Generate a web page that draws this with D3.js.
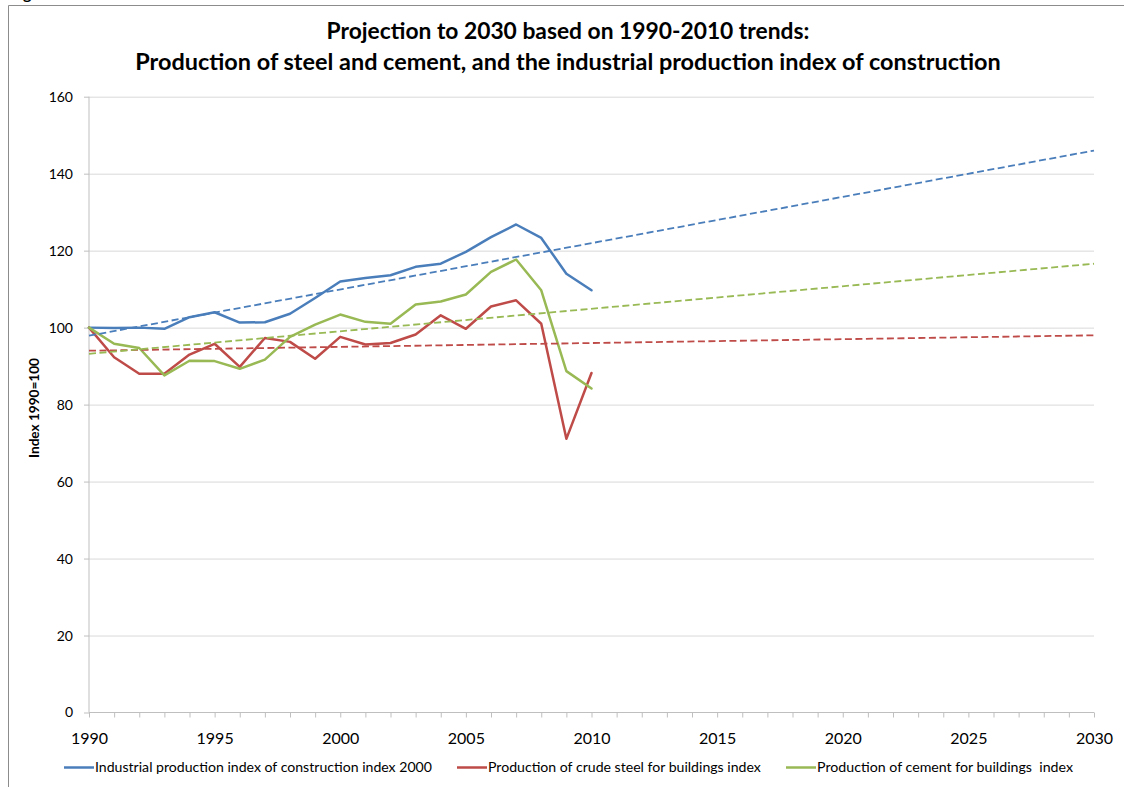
<!DOCTYPE html>
<html>
<head>
<meta charset="utf-8">
<script src="https://cdn.jsdelivr.net/npm/d3@7"></script>
<style>
  html, body { margin: 0; padding: 0; background: #ffffff; }
  svg { display: block; }
  text { font-family: Lato, "Open Sans", "Liberation Sans", sans-serif; fill: #000; }
</style>
</head>
<body>
<svg id="chart" width="1124" height="787"></svg>
<script>
// ---------- DATA ----------
const years = [1990,1991,1992,1993,1994,1995,1996,1997,1998,1999,2000,2001,2002,2003,2004,2005,2006,2007,2008,2009,2010];
const constructionIndex = [100, 99.9, 100, 99.7, 102.7, 104.0, 101.3, 101.4, 103.6, 107.7, 112.0, 112.9, 113.6, 115.8, 116.6, 119.7, 123.5, 126.8, 123.3, 114.0, 109.7];
const steelIndex        = [100, 92.3, 88.0, 88.0, 93.0, 95.8, 89.8, 97.3, 96.3, 91.9, 97.6, 95.6, 96.0, 98.2, 103.2, 99.7, 105.5, 107.1, 101.0, 71.1, 88.2];
const cementIndex       = [100, 95.8, 94.7, 87.6, 91.4, 91.3, 89.3, 91.7, 97.6, 100.8, 103.4, 101.5, 101.0, 106.0, 106.8, 108.6, 114.5, 117.7, 109.7, 88.7, 84.2];
// linear trend lines (end points)
const trendYears = [1990, 2030];
const constructionTrend = [97.9, 146.0];
const steelTrend        = [94.0, 98.0];
const cementTrend       = [93.2, 116.6];

const seriesNames = [
  "Industrial production index of construction index 2000",
  "Production of crude steel for buildings index",
  "Production of cement for buildings  index"
];
const seriesColors = ["#4a7ebb", "#be4b48", "#98b954"];
const yTickValues = [0, 20, 40, 60, 80, 100, 120, 140, 160];
const xLabelYears = [1990, 1995, 2000, 2005, 2010, 2015, 2020, 2025, 2030];
const titleLines = [
  "Projection to 2030 based on 1990-2010 trends:",
  "Production of steel and cement, and the industrial production index of construction"
];
const yAxisTitle = "Index 1990=100";

// ---------- LAYOUT ----------
const svg = d3.select("#chart");
const plotL = 89, plotR = 1094, plotT = 96.7, plotB = 712.5;
const x = d3.scaleLinear().domain([1990, 2030]).range([plotL, plotR]);
const y = d3.scaleLinear().domain([0, 160]).range([plotB, plotT]);

svg.append("rect").attr("width", 1124).attr("height", 787).attr("fill", "#fff");

// fit text to width helper
function fitWidth(sel, target) {
  const node = sel.node();
  const fs = parseFloat(sel.attr("font-size"));
  const w = node.getComputedTextLength();
  if (w > 0) sel.attr("font-size", (fs * target / w).toFixed(2));
  return sel;
}

// partially visible caption above the frame
svg.append("text").attr("x", 10).attr("y", -1.5)
  .attr("font-size", 16).attr("font-weight", "bold").text("Figure");

// outer frame (left + top visible)
svg.append("path").attr("d", "M8.5,787 V5.5 H1124")
  .attr("fill", "none").attr("stroke", "#8c8c8c").attr("stroke-width", 1);

// title
const titleTargets = [483, 866];
const titleBaselines = [39, 70];
titleLines.forEach((t, i) => {
  const tt = svg.append("text").attr("x", 568).attr("y", titleBaselines[i])
    .attr("text-anchor", "middle").attr("font-weight", "bold")
    .attr("font-size", 20).text(t);
  fitWidth(tt, titleTargets[i]);
});

// gridlines
const grid = svg.append("g").attr("transform", `translate(${plotL},0)`)
  .call(d3.axisLeft(y).tickValues(yTickValues.filter(v => v > 0)).tickSize(-(plotR - plotL)).tickFormat(""));
grid.select(".domain").remove();
grid.selectAll("line").attr("stroke", "#d9d9d9").attr("stroke-width", 1);

// y axis
const yAxis = svg.append("g").attr("transform", `translate(${plotL},0)`)
  .call(d3.axisLeft(y).tickValues(yTickValues).tickSize(5).tickPadding(11));
yAxis.select(".domain").attr("stroke", "#bfbfbf").attr("d", `M-0,${plotT}V${plotB}`);
yAxis.selectAll("line").attr("stroke", "#bfbfbf");
yAxis.selectAll("text").attr("font-size", 14).attr("font-family", "Lato, sans-serif").attr("fill", "#000");

// x axis
const allYears = d3.range(1990, 2031);
const xAxis = svg.append("g").attr("transform", `translate(0,${plotB})`)
  .call(d3.axisBottom(x).tickValues(allYears).tickSize(5)
    .tickFormat(d => xLabelYears.includes(d) ? String(d) : ""));
xAxis.select(".domain").attr("stroke", "#bfbfbf").attr("d", `M${plotL},0H${plotR}`);
xAxis.selectAll("line").attr("stroke", "#bfbfbf");
xAxis.selectAll("text").attr("font-size", 16).attr("font-family", "Lato, sans-serif")
  .attr("fill", "#000").attr("y", 31.5).attr("dy", null);

// y axis title
const yt = svg.append("text")
  .attr("transform", "translate(38.5,408) rotate(-90)")
  .attr("text-anchor", "middle").attr("font-weight", "bold")
  .attr("font-size", 12).text(yAxisTitle);
fitWidth(yt, 100);

// data lines
const line = d3.line().x(d => x(d[0])).y(d => y(d[1]));
const seriesValues = [constructionIndex, steelIndex, cementIndex];
const trendValues = [constructionTrend, steelTrend, cementTrend];

const plot = svg.append("g");
seriesValues.forEach((vals, i) => {
  plot.append("path")
    .datum(years.map((yr, j) => [yr, vals[j]]))
    .attr("d", line)
    .attr("fill", "none")
    .attr("stroke", seriesColors[i])
    .attr("stroke-width", 2.5)
    .attr("stroke-linejoin", "round")
    .attr("stroke-linecap", "round");
});
trendValues.forEach((vals, i) => {
  plot.append("path")
    .datum(trendYears.map((yr, j) => [yr, vals[j]]))
    .attr("d", line)
    .attr("fill", "none")
    .attr("stroke", seriesColors[i])
    .attr("stroke-width", 1.8)
    .attr("stroke-dasharray", "7,3.5");
});

// legend
const legendX = [64, 457, 786];
const legendTextW = [337, 273, 256];
const legendY = 767.5;
seriesNames.forEach((name, i) => {
  const g = svg.append("g");
  g.append("line").attr("x1", legendX[i]).attr("x2", legendX[i] + 30)
    .attr("y1", legendY).attr("y2", legendY)
    .attr("stroke", seriesColors[i]).attr("stroke-width", 2.5);
  const t = g.append("text").attr("x", legendX[i] + 31).attr("y", 772)
    .attr("font-size", 13).attr("xml:space", "preserve").style("white-space", "pre").text(name);
  fitWidth(t, legendTextW[i]);
});
</script>
</body>
</html>
